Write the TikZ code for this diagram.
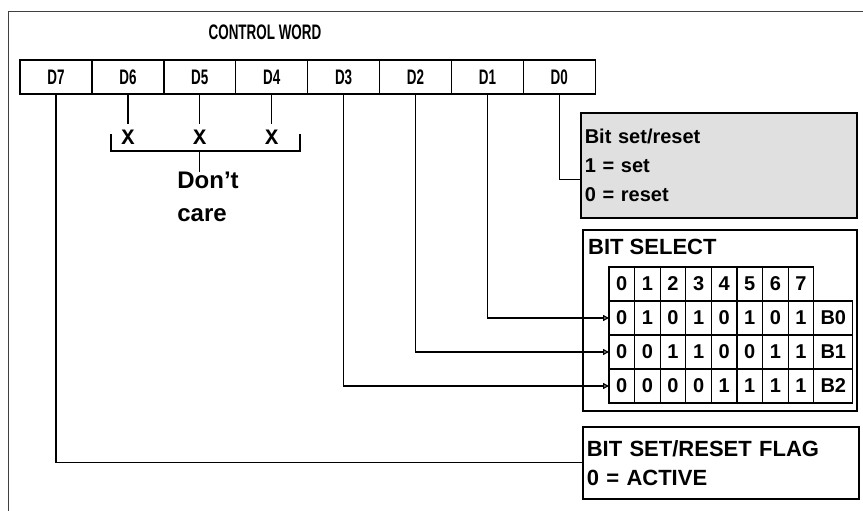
\documentclass[tikz,border=0pt]{standalone}
\usepackage{fontspec}
\setmainfont{Liberation Sans}
\setmonofont{Liberation Mono}
\newfontfamily\narrowsans[FakeStretch=0.64]{Liberation Sans}
\usepackage{tikz}
\usetikzlibrary{arrows.meta, positioning}

\begin{document}
\begin{tikzpicture}[
  x=1pt, y=-1pt,
  bitcell/.style={rectangle, draw, line width=1.3pt, minimum width=71.9pt, minimum height=34pt,
                  inner sep=0pt, outer sep=0pt, font=\narrowsans\bfseries\fontsize{21}{22}\selectfont},
  tcell/.style={rectangle, draw, line width=1.3pt, minimum width=25.6pt, minimum height=34pt,
                inner sep=0pt, outer sep=0pt, font=\bfseries\fontsize{20}{22}\selectfont},
  title/.style={font=\narrowsans\bfseries\fontsize{21}{22}\selectfont, inner sep=0pt},
  xmark/.style={font=\ttfamily\bfseries\fontsize{22}{22}\selectfont, inner xsep=0pt, inner ysep=6pt},
  note/.style={font=\bfseries\fontsize{24}{33}\selectfont, align=left, inner sep=0pt},
  setbox/.style={rectangle, draw, line width=1.6pt, fill=black!12, align=left, anchor=north west,
                 text width=268pt, inner xsep=4pt, minimum height=105pt,
                 font=\bfseries\fontsize{20}{29}\selectfont},
  flagbox/.style={rectangle, draw, line width=1.6pt, fill=white, align=left, anchor=north west,
                  text width=268pt, inner xsep=4pt, minimum height=72pt,
                  font=\bfseries\fontsize{22}{29}\selectfont},
  selbox/.style={rectangle, draw, line width=1.6pt, anchor=north west,
                 minimum width=274pt, minimum height=181pt},
  line/.style={line width=1.3pt},
  arrow/.style={line width=1.3pt, -{Triangle[open, length=6pt, width=6pt]}},
]
  \useasboundingbox (0,0) rectangle (863,511);
  % frame of the scan
  \draw[line width=1pt, black!75] (8,511) |- (863,12);

  % control word
  \node[title] (ctitle) at (265,32) {CONTROL WORD};
  \node[bitcell] (d7) at (56,77) {D7};
  \node[bitcell, right=0pt of d7] (d6) {D6};
  \node[bitcell, right=0pt of d6] (d5) {D5};
  \node[bitcell, right=0pt of d5] (d4) {D4};
  \node[bitcell, right=0pt of d4] (d3) {D3};
  \node[bitcell, right=0pt of d3] (d2) {D2};
  \node[bitcell, right=0pt of d2] (d1) {D1};
  \node[bitcell, right=0pt of d1] (d0) {D0};

  % don't care bits
  \node[xmark] (x6) at (d6 |- 0,137) {X};
  \node[xmark] (x5) at (d5 |- 0,137) {X};
  \node[xmark] (x4) at (d4 |- 0,137) {X};
  \draw[line] (d6.south) -- (x6.north);
  \draw[line] (d5.south) -- (x5.north);
  \draw[line] (d4.south) -- (x4.north);
  \draw[line] (111,134) |- (300,151) -- (300,134);
  \coordinate (brk) at (d5 |- 0,151);
  \node[note, anchor=north] (dc) at (208,172) {Don't\\care};
  \draw[line] (brk) -- (brk |- dc.north);

  % bit set/reset
  \node[setbox] (setbox) at (580,112) {Bit set/reset\\1 = set\\0 = reset};
  \draw[line] (d0.south) |- ([yshift=-14.5pt]setbox.west);

  % bit select
  \node[selbox] (selbox) at (582,229) {};
  \node[note, font=\bfseries\fontsize{22}{24}\selectfont, anchor=west] (seltitle) at (588,247) {BIT SELECT};
  \foreach \v [count=\i from 0] in {0,...,7}
    \node[tcell] (h\i) at ({621.8+25.6*\i}, 284) {\v};
  \foreach \bits [count=\r from 0] in {{0,1,0,1,0,1,0,1},{0,0,1,1,0,0,1,1},{0,0,0,0,1,1,1,1}} {
    \foreach \v [count=\i from 0] in \bits
      \node[tcell] (b\r-\i) at ({621.8+25.6*\i}, {318+34*\r}) {\v};
    \node[tcell, minimum width=39pt, right=0pt of b\r-7] (b\r) {B\r};
  }
  \draw[arrow] (d1.south) |- (b0-0.west);
  \draw[arrow] (d2.south) |- (b1-0.west);
  \draw[arrow] (d3.south) |- (b2-0.west);

  % flag
  \node[flagbox] (flag) at (582,426) {BIT SET/RESET FLAG\\0 = ACTIVE};
  \draw[line] (d7.south) |- (flag.west);
\end{tikzpicture}
\end{document}
